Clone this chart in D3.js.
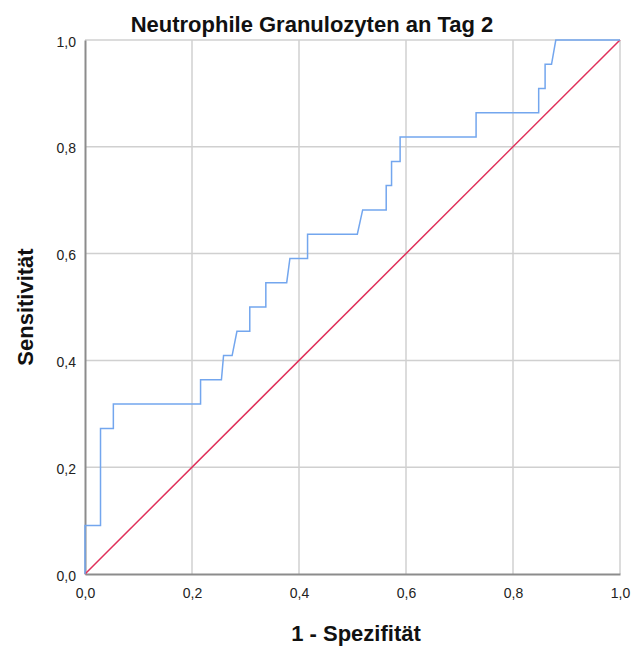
<!DOCTYPE html>
<html>
<head>
<meta charset="utf-8">
<script src="https://cdn.jsdelivr.net/npm/d3@7/dist/d3.min.js"></script>
<style>
  html, body { margin: 0; padding: 0; background: #fff; }
  svg { display: block; font-family: "Liberation Sans", Arial, sans-serif; }
</style>
</head>
<body>
<svg id="chart" width="631" height="646"></svg>
<script>
// ROC curve: 1 - specificity (false positive rate) vs. sensitivity
const fpr = [0, 0, 0.029, 0.029, 0.053, 0.053, 0.216, 0.216, 0.255, 0.259, 0.275, 0.284,
  0.308, 0.308, 0.338, 0.338, 0.377, 0.383, 0.416, 0.416, 0.509, 0.519, 0.563, 0.563,
  0.573, 0.573, 0.589, 0.589, 0.731, 0.731, 0.848, 0.848, 0.860, 0.860, 0.872, 0.880, 1];
const tpr = [0, 0.0909, 0.0909, 0.2727, 0.2727, 0.3182, 0.3182, 0.3636, 0.3636, 0.4091, 0.4091, 0.4545,
  0.4545, 0.5, 0.5, 0.5455, 0.5455, 0.5909, 0.5909, 0.6364, 0.6364, 0.6818, 0.6818, 0.7273,
  0.7273, 0.7727, 0.7727, 0.8182, 0.8182, 0.8636, 0.8636, 0.9091, 0.9091, 0.9545, 0.9545, 1, 1];
const referenceLine = [[0, 0], [1, 1]];
const tickValues = [0, 0.2, 0.4, 0.6, 0.8, 1.0];
const tickLabels = ["0,0", "0,2", "0,4", "0,6", "0,8", "1,0"];

const titleText = "Neutrophile Granulozyten an Tag 2";
const xTitle = "1 - Spezifität";
const yTitle = "Sensitivität";

(function () {
  const svg = d3.select("#chart");
  const mLeft = 85, mRight = 620, mTop = 40, mBottom = 574;

  const x = d3.scaleLinear().domain([0, 1]).range([mLeft, mRight]);
  const y = d3.scaleLinear().domain([0, 1]).range([mBottom, mTop]);

  // gridlines
  const grid = svg.append("g");
  grid.selectAll("line.gx").data(tickValues.slice(1)).join("line")
    .attr("class", "gx")
    .attr("x1", d => x(d)).attr("x2", d => x(d))
    .attr("y1", mTop).attr("y2", mBottom)
    .attr("stroke", "#d0d0d0").attr("stroke-width", 1.5);
  grid.selectAll("line.gy").data(tickValues.slice(1)).join("line")
    .attr("class", "gy")
    .attr("x1", mLeft).attr("x2", mRight)
    .attr("y1", d => y(d)).attr("y2", d => y(d))
    .attr("stroke", "#d0d0d0").attr("stroke-width", 1.5);

  // axes
  const xAxis = d3.axisBottom(x).tickValues(tickValues).tickFormat((d, i) => tickLabels[i]).tickSize(0).tickPadding(14);
  const yAxis = d3.axisLeft(y).tickValues(tickValues).tickFormat((d, i) => tickLabels[i]).tickSize(0).tickPadding(9);

  const gx = svg.append("g").attr("transform", `translate(0,${mBottom})`).call(xAxis);
  const gy = svg.append("g").attr("transform", `translate(${mLeft},0)`).call(yAxis);
  [gx, gy].forEach(g => {
    g.select(".domain").attr("stroke", "#8c8c8c").attr("stroke-width", 2);
    g.selectAll("text").attr("font-size", 14).attr("fill", "#222")
      .attr("font-family", "'Liberation Sans', Arial, sans-serif");
  });
  gy.selectAll(".tick text").attr("dy", "6px");

  // reference diagonal
  svg.append("path")
    .datum(referenceLine)
    .attr("d", d3.line().x(d => x(d[0])).y(d => y(d[1])))
    .attr("fill", "none").attr("stroke", "#e0305a").attr("stroke-width", 1.5);

  // ROC curve
  const pts = fpr.map((f, i) => [f, tpr[i]]);
  svg.append("path")
    .datum(pts)
    .attr("d", d3.line().x(d => x(d[0])).y(d => y(d[1])))
    .attr("fill", "none").attr("stroke", "#73a6ee").attr("stroke-width", 1.5);

  // titles
  svg.append("text").attr("x", 312).attr("y", 32).attr("text-anchor", "middle")
    .attr("font-size", 22).attr("font-weight", "bold").attr("fill", "#111").text(titleText);
  svg.append("text").attr("x", 356).attr("y", 641).attr("text-anchor", "middle")
    .attr("font-size", 22).attr("font-weight", "bold").attr("fill", "#111").text(xTitle);
  svg.append("text").attr("transform", `translate(33,307) rotate(-90)`).attr("text-anchor", "middle")
    .attr("font-size", 22).attr("font-weight", "bold").attr("fill", "#111").text(yTitle);
})();
</script>
</body>
</html>
